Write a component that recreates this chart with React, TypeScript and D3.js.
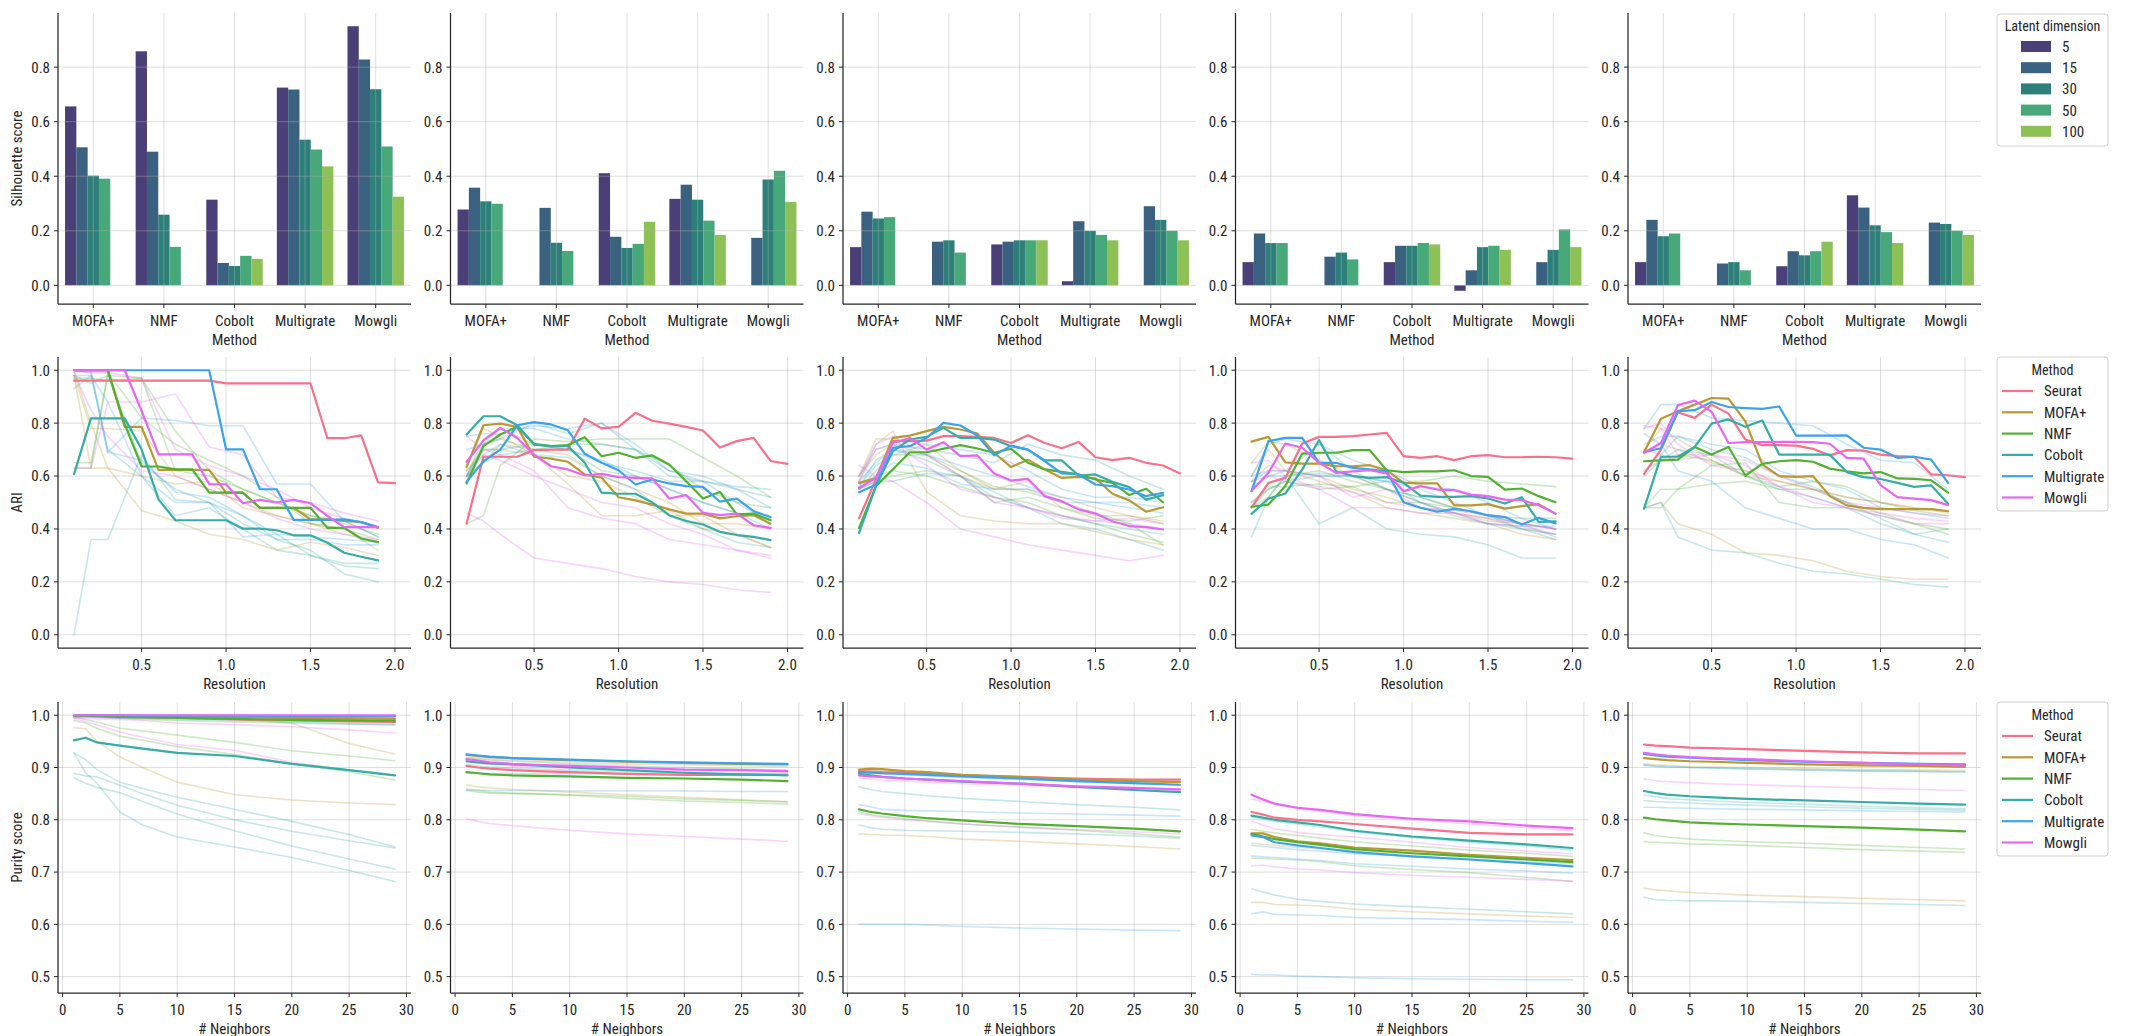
import React from "react";
import * as d3 from "d3";

const FONT = '"Roboto Condensed", "Roboto", sans-serif';
const INK = "#262626";

// ---- categories & palettes ----
const BAR_METHODS = ["MOFA+", "NMF", "Cobolt", "Multigrate", "Mowgli"];
const LATENT_DIMS = ["5", "15", "30", "50", "100"];
const DIM_COLORS = ["#4b3f78", "#3a6280", "#2d807a", "#47a879", "#8ec155"];

const METHODS = ["Seurat", "MOFA+", "NMF", "Cobolt", "Multigrate", "Mowgli"];
const METHOD_COLORS = ["#f77189", "#bb9832", "#50b131", "#36ada4", "#3ba3ec", "#e866f4"];

// ---- silhouette score (rows: method, cols: latent dimension) ----
const silhouette1 = [
  [0.656, 0.506, 0.402, 0.391, null],
  [0.858, 0.49, 0.259, 0.141, null],
  [0.314, 0.082, 0.071, 0.108, 0.097],
  [0.725, 0.718, 0.534, 0.498, 0.436],
  [0.95, 0.828, 0.719, 0.509, 0.325],
];
const silhouette2 = [
  [0.278, 0.358, 0.308, 0.299, null],
  [null, 0.284, 0.156, 0.126, null],
  [0.411, 0.178, 0.137, 0.152, 0.233],
  [0.317, 0.369, 0.314, 0.237, 0.185],
  [null, 0.174, 0.388, 0.42, 0.306],
];
const silhouette3 = [
  [0.14, 0.27, 0.245, 0.25, null],
  [null, 0.16, 0.165, 0.12, null],
  [0.15, 0.16, 0.165, 0.165, 0.165],
  [0.015, 0.235, 0.2, 0.185, 0.165],
  [null, 0.29, 0.24, 0.2, 0.165],
];
const silhouette4 = [
  [0.085, 0.19, 0.155, 0.155, null],
  [null, 0.105, 0.12, 0.095, null],
  [0.085, 0.145, 0.145, 0.155, 0.15],
  [-0.02, 0.055, 0.14, 0.145, 0.13],
  [null, 0.085, 0.13, 0.205, 0.14],
];
const silhouette5 = [
  [0.085, 0.24, 0.18, 0.19, null],
  [null, 0.08, 0.085, 0.055, null],
  [0.07, 0.125, 0.11, 0.125, 0.16],
  [0.33, 0.285, 0.22, 0.195, 0.155],
  [null, 0.23, 0.225, 0.2, 0.185],
];
const SILHOUETTE = [silhouette1, silhouette2, silhouette3, silhouette4, silhouette5];
const SILHOUETTE_TICKS = [0, 0.2, 0.4, 0.6, 0.8];

// ---- ARI vs clustering resolution ----
const RESOLUTION = [0.1, 0.2, 0.3, 0.4, 0.5, 0.6, 0.7, 0.8, 0.9, 1.0, 1.1, 1.2, 1.3, 1.4, 1.5, 1.6, 1.7, 1.8, 1.9, 2.0];
const RESOLUTION_SPARSE = [0.1, 0.2, 0.3, 0.5, 0.7, 0.9, 1.1, 1.3, 1.5, 1.7, 1.9];
const RESOLUTION_TICKS = [0.5, 1.0, 1.5, 2.0];
const ARI_TICKS = [0, 0.2, 0.4, 0.6, 0.8, 1.0];

// best latent dimension per method (Seurat, MOFA+, NMF, Cobolt, Multigrate, Mowgli)
const ariBest1 = [
  [0.961, 0.961, 0.961, 0.961, 0.961, 0.961, 0.961, 0.961, 0.961, 0.95, 0.95, 0.95, 0.95, 0.95, 0.95, 0.743, 0.743, 0.754, 0.576, 0.573],
  [1.0, 1.0, 1.0, 0.786, 0.786, 0.623, 0.623, 0.623, 0.623, 0.537, 0.537, 0.48, 0.48, 0.48, 0.436, 0.436, 0.43, 0.426, 0.404],
  [1.0, 1.0, 1.0, 0.796, 0.636, 0.636, 0.625, 0.625, 0.537, 0.537, 0.537, 0.48, 0.48, 0.48, 0.48, 0.404, 0.404, 0.364, 0.35],
  [0.607, 0.818, 0.818, 0.818, 0.701, 0.512, 0.433, 0.433, 0.433, 0.433, 0.401, 0.401, 0.395, 0.376, 0.376, 0.348, 0.31, 0.295, 0.281],
  [1.0, 1.0, 1.0, 1.0, 1.0, 1.0, 1.0, 1.0, 1.0, 0.701, 0.701, 0.55, 0.55, 0.434, 0.434, 0.434, 0.436, 0.426, 0.407],
  [1.0, 1.0, 1.0, 1.0, 0.846, 0.682, 0.682, 0.682, 0.569, 0.569, 0.497, 0.51, 0.5, 0.51, 0.497, 0.449, 0.407, 0.407, 0.407],
];
const ariBest2 = [
  [0.42, 0.673, 0.673, 0.673, 0.698, 0.7, 0.7, 0.817, 0.78, 0.786, 0.839, 0.809, 0.798, 0.786, 0.772, 0.708, 0.732, 0.744, 0.657, 0.646],
  [0.635, 0.792, 0.798, 0.786, 0.673, 0.666, 0.654, 0.606, 0.594, 0.52, 0.508, 0.492, 0.474, 0.458, 0.458, 0.44, 0.448, 0.452, 0.42],
  [0.572, 0.713, 0.757, 0.786, 0.722, 0.713, 0.717, 0.747, 0.675, 0.688, 0.669, 0.678, 0.644, 0.58, 0.515, 0.54, 0.455, 0.458, 0.433],
  [0.757, 0.826, 0.826, 0.792, 0.719, 0.713, 0.713, 0.65, 0.537, 0.533, 0.533, 0.5, 0.452, 0.43, 0.417, 0.389, 0.377, 0.37, 0.358],
  [0.578, 0.656, 0.7, 0.792, 0.804, 0.795, 0.773, 0.684, 0.65, 0.622, 0.568, 0.587, 0.572, 0.562, 0.559, 0.503, 0.515, 0.467, 0.445],
  [0.654, 0.734, 0.782, 0.744, 0.681, 0.637, 0.625, 0.602, 0.608, 0.596, 0.593, 0.591, 0.515, 0.528, 0.461, 0.452, 0.458, 0.414, 0.404],
];
const ariBest3 = [
  [0.44, 0.587, 0.732, 0.732, 0.734, 0.751, 0.751, 0.748, 0.744, 0.725, 0.754, 0.725, 0.705, 0.729, 0.671, 0.66, 0.669, 0.65, 0.64, 0.61],
  [0.574, 0.591, 0.744, 0.753, 0.77, 0.786, 0.776, 0.761, 0.688, 0.634, 0.662, 0.625, 0.593, 0.597, 0.591, 0.533, 0.508, 0.465, 0.482],
  [0.404, 0.562, 0.625, 0.69, 0.69, 0.703, 0.717, 0.704, 0.688, 0.703, 0.65, 0.625, 0.616, 0.606, 0.587, 0.574, 0.528, 0.552, 0.501],
  [0.385, 0.562, 0.694, 0.738, 0.748, 0.782, 0.744, 0.744, 0.738, 0.713, 0.7, 0.659, 0.659, 0.602, 0.606, 0.578, 0.558, 0.511, 0.528],
  [0.539, 0.568, 0.707, 0.713, 0.744, 0.801, 0.791, 0.753, 0.678, 0.715, 0.7, 0.656, 0.61, 0.606, 0.568, 0.562, 0.549, 0.524, 0.537],
  [0.555, 0.593, 0.725, 0.744, 0.7, 0.728, 0.675, 0.678, 0.61, 0.583, 0.589, 0.524, 0.505, 0.474, 0.458, 0.429, 0.411, 0.407, 0.398],
];
const ariBest4 = [
  [0.482, 0.574, 0.593, 0.723, 0.748, 0.748, 0.751, 0.757, 0.763, 0.675, 0.669, 0.675, 0.66, 0.675, 0.679, 0.671, 0.671, 0.673, 0.671, 0.666],
  [0.73, 0.748, 0.652, 0.647, 0.647, 0.637, 0.637, 0.641, 0.622, 0.574, 0.572, 0.572, 0.489, 0.489, 0.494, 0.477, 0.486, 0.494, 0.457],
  [0.484, 0.492, 0.562, 0.685, 0.688, 0.688, 0.698, 0.698, 0.622, 0.615, 0.618, 0.618, 0.622, 0.6, 0.597, 0.549, 0.553, 0.524, 0.501],
  [0.457, 0.515, 0.534, 0.625, 0.736, 0.618, 0.6, 0.593, 0.596, 0.574, 0.526, 0.521, 0.521, 0.524, 0.515, 0.496, 0.52, 0.427, 0.429],
  [0.543, 0.732, 0.744, 0.744, 0.65, 0.65, 0.631, 0.625, 0.618, 0.501, 0.48, 0.465, 0.476, 0.467, 0.452, 0.445, 0.417, 0.442, 0.421],
  [0.543, 0.612, 0.723, 0.707, 0.65, 0.612, 0.618, 0.622, 0.61, 0.543, 0.562, 0.549, 0.547, 0.53, 0.524, 0.511, 0.509, 0.49, 0.458],
];
const ariBest5 = [
  [0.608, 0.7, 0.841, 0.82, 0.87, 0.836, 0.738, 0.717, 0.717, 0.715, 0.703, 0.678, 0.698, 0.696, 0.681, 0.675, 0.673, 0.606, 0.603, 0.596],
  [0.69, 0.817, 0.845, 0.87, 0.895, 0.893, 0.807, 0.644, 0.6, 0.597, 0.6, 0.524, 0.489, 0.48, 0.475, 0.475, 0.475, 0.475, 0.467],
  [0.656, 0.659, 0.662, 0.71, 0.681, 0.71, 0.602, 0.646, 0.656, 0.66, 0.654, 0.628, 0.618, 0.61, 0.615, 0.591, 0.589, 0.584, 0.537],
  [0.477, 0.673, 0.673, 0.71, 0.798, 0.814, 0.786, 0.81, 0.681, 0.681, 0.681, 0.681, 0.615, 0.596, 0.589, 0.574, 0.559, 0.565, 0.495],
  [0.691, 0.705, 0.845, 0.849, 0.88, 0.861, 0.857, 0.854, 0.863, 0.753, 0.753, 0.753, 0.754, 0.707, 0.7, 0.669, 0.673, 0.662, 0.574],
  [0.688, 0.725, 0.868, 0.885, 0.843, 0.725, 0.728, 0.728, 0.729, 0.729, 0.728, 0.722, 0.669, 0.666, 0.566, 0.52, 0.515, 0.509, 0.49],
];
const ARI_BEST = [ariBest1, ariBest2, ariBest3, ariBest4, ariBest5];

// remaining latent dimensions: [method index, values at RESOLUTION_SPARSE]
const ariOther1 = [
  [1, [1.0, 0.8, 0.63, 0.47, 0.43, 0.38, 0.36, 0.32, 0.35, 0.33, 0.3]],
  [1, [0.98, 0.63, 0.63, 0.6, 0.57, 0.58, 0.48, 0.45, 0.42, 0.4, 0.32]],
  [1, [0.98, 0.78, 0.78, 0.77, 0.6, 0.55, 0.5, 0.45, 0.42, 0.38, 0.35]],
  [2, [0.65, 0.65, 0.98, 0.97, 0.77, 0.62, 0.55, 0.5, 0.45, 0.42, 0.38]],
  [2, [0.97, 0.97, 0.96, 0.97, 0.62, 0.6, 0.55, 0.5, 0.45, 0.43, 0.37]],
  [2, [0.63, 0.63, 0.99, 0.82, 0.72, 0.66, 0.6, 0.52, 0.42, 0.4, 0.36]],
  [3, [0.0, 0.36, 0.36, 0.68, 0.51, 0.5, 0.42, 0.36, 0.32, 0.23, 0.2]],
  [3, [0.93, 0.98, 0.7, 0.6, 0.45, 0.48, 0.4, 0.32, 0.3, 0.26, 0.25]],
  [3, [0.98, 0.95, 0.98, 0.65, 0.55, 0.5, 0.45, 0.38, 0.3, 0.27, 0.27]],
  [4, [1.0, 1.0, 0.69, 0.82, 0.81, 0.79, 0.79, 0.57, 0.57, 0.43, 0.37]],
  [4, [1.0, 0.99, 0.69, 0.66, 0.54, 0.52, 0.45, 0.36, 0.36, 0.34, 0.34]],
  [4, [0.98, 0.98, 0.88, 0.6, 0.5, 0.5, 0.37, 0.38, 0.37, 0.36, 0.35]],
  [5, [0.63, 0.63, 0.88, 0.88, 0.91, 0.71, 0.68, 0.52, 0.5, 0.46, 0.43]],
  [5, [1.0, 0.99, 0.99, 0.97, 0.7, 0.64, 0.6, 0.55, 0.48, 0.44, 0.41]],
  [5, [0.99, 0.85, 0.75, 0.62, 0.6, 0.55, 0.5, 0.44, 0.4, 0.38, 0.36]],
];
const ariOther2 = [
  [1, [0.63, 0.78, 0.75, 0.68, 0.57, 0.45, 0.45, 0.47, 0.4, 0.38, 0.33]],
  [1, [0.62, 0.7, 0.7, 0.68, 0.6, 0.58, 0.52, 0.45, 0.45, 0.38, 0.33]],
  [1, [0.6, 0.65, 0.72, 0.7, 0.68, 0.6, 0.55, 0.5, 0.42, 0.42, 0.4]],
  [2, [0.42, 0.45, 0.64, 0.74, 0.73, 0.74, 0.74, 0.74, 0.67, 0.6, 0.52]],
  [2, [0.58, 0.72, 0.74, 0.7, 0.72, 0.72, 0.7, 0.64, 0.55, 0.5, 0.48]],
  [2, [0.6, 0.74, 0.78, 0.72, 0.7, 0.62, 0.6, 0.55, 0.5, 0.46, 0.44]],
  [3, [0.6, 0.72, 0.74, 0.8, 0.76, 0.8, 0.7, 0.62, 0.58, 0.55, 0.52]],
  [3, [0.62, 0.68, 0.72, 0.68, 0.67, 0.6, 0.55, 0.45, 0.4, 0.35, 0.33]],
  [3, [0.6, 0.7, 0.7, 0.72, 0.7, 0.65, 0.62, 0.58, 0.58, 0.56, 0.55]],
  [4, [0.75, 0.76, 0.76, 0.79, 0.78, 0.8, 0.72, 0.62, 0.6, 0.55, 0.48]],
  [4, [0.7, 0.72, 0.78, 0.78, 0.74, 0.72, 0.7, 0.6, 0.58, 0.5, 0.42]],
  [4, [0.6, 0.65, 0.68, 0.7, 0.7, 0.66, 0.6, 0.55, 0.5, 0.46, 0.4]],
  [5, [0.46, 0.43, 0.38, 0.29, 0.27, 0.25, 0.22, 0.2, 0.19, 0.17, 0.16]],
  [5, [0.75, 0.7, 0.68, 0.62, 0.48, 0.44, 0.42, 0.36, 0.34, 0.32, 0.29]],
  [5, [0.6, 0.68, 0.66, 0.6, 0.55, 0.5, 0.48, 0.42, 0.38, 0.32, 0.3]],
];
const ariOther3 = [
  [1, [0.6, 0.74, 0.74, 0.72, 0.62, 0.55, 0.58, 0.48, 0.45, 0.45, 0.42]],
  [1, [0.58, 0.72, 0.77, 0.54, 0.45, 0.43, 0.42, 0.42, 0.39, 0.36, 0.34]],
  [1, [0.6, 0.68, 0.72, 0.68, 0.6, 0.55, 0.55, 0.52, 0.48, 0.45, 0.43]],
  [2, [0.55, 0.58, 0.6, 0.62, 0.6, 0.5, 0.52, 0.48, 0.44, 0.43, 0.45]],
  [2, [0.55, 0.62, 0.68, 0.68, 0.62, 0.56, 0.54, 0.5, 0.46, 0.42, 0.34]],
  [2, [0.55, 0.6, 0.62, 0.6, 0.56, 0.52, 0.5, 0.45, 0.42, 0.38, 0.35]],
  [3, [0.55, 0.58, 0.58, 0.61, 0.6, 0.52, 0.48, 0.42, 0.4, 0.36, 0.32]],
  [3, [0.6, 0.7, 0.72, 0.7, 0.68, 0.65, 0.72, 0.68, 0.66, 0.6, 0.55]],
  [3, [0.56, 0.66, 0.7, 0.66, 0.6, 0.54, 0.48, 0.45, 0.42, 0.4, 0.38]],
  [4, [0.58, 0.65, 0.7, 0.68, 0.64, 0.6, 0.56, 0.52, 0.5, 0.5, 0.48]],
  [4, [0.56, 0.64, 0.68, 0.72, 0.7, 0.68, 0.62, 0.55, 0.52, 0.52, 0.5]],
  [4, [0.57, 0.6, 0.65, 0.63, 0.57, 0.55, 0.55, 0.5, 0.5, 0.48, 0.46]],
  [5, [0.64, 0.6, 0.58, 0.5, 0.4, 0.37, 0.34, 0.32, 0.3, 0.28, 0.3]],
  [5, [0.6, 0.72, 0.75, 0.68, 0.6, 0.5, 0.48, 0.44, 0.43, 0.44, 0.42]],
  [5, [0.58, 0.7, 0.72, 0.64, 0.55, 0.52, 0.48, 0.45, 0.43, 0.42, 0.4]],
];
const ariOther4 = [
  [1, [0.58, 0.64, 0.62, 0.6, 0.55, 0.52, 0.48, 0.46, 0.44, 0.4, 0.38]],
  [1, [0.6, 0.7, 0.62, 0.58, 0.54, 0.48, 0.46, 0.44, 0.42, 0.38, 0.36]],
  [1, [0.65, 0.73, 0.72, 0.66, 0.6, 0.55, 0.5, 0.46, 0.43, 0.42, 0.4]],
  [2, [0.48, 0.55, 0.58, 0.55, 0.56, 0.58, 0.58, 0.6, 0.58, 0.57, 0.56]],
  [2, [0.5, 0.56, 0.56, 0.57, 0.56, 0.5, 0.5, 0.48, 0.45, 0.42, 0.4]],
  [2, [0.48, 0.52, 0.6, 0.62, 0.58, 0.55, 0.52, 0.48, 0.45, 0.44, 0.44]],
  [3, [0.37, 0.52, 0.6, 0.42, 0.48, 0.4, 0.38, 0.37, 0.34, 0.29, 0.29]],
  [3, [0.55, 0.6, 0.62, 0.72, 0.62, 0.55, 0.5, 0.45, 0.42, 0.4, 0.38]],
  [3, [0.5, 0.55, 0.58, 0.6, 0.6, 0.55, 0.52, 0.48, 0.45, 0.4, 0.36]],
  [4, [0.6, 0.72, 0.74, 0.72, 0.66, 0.62, 0.56, 0.55, 0.5, 0.44, 0.4]],
  [4, [0.58, 0.62, 0.62, 0.6, 0.6, 0.58, 0.5, 0.46, 0.42, 0.41, 0.41]],
  [4, [0.56, 0.6, 0.6, 0.61, 0.6, 0.58, 0.55, 0.5, 0.45, 0.42, 0.37]],
  [5, [0.65, 0.66, 0.6, 0.55, 0.48, 0.48, 0.46, 0.46, 0.42, 0.41, 0.38]],
  [5, [0.6, 0.62, 0.62, 0.6, 0.52, 0.55, 0.48, 0.47, 0.45, 0.42, 0.4]],
  [5, [0.58, 0.6, 0.58, 0.56, 0.54, 0.5, 0.48, 0.46, 0.44, 0.42, 0.4]],
];
const ariOther5 = [
  [1, [0.48, 0.5, 0.42, 0.38, 0.31, 0.3, 0.28, 0.24, 0.22, 0.21, 0.21]],
  [1, [0.7, 0.78, 0.74, 0.66, 0.6, 0.58, 0.55, 0.52, 0.5, 0.48, 0.46]],
  [1, [0.68, 0.72, 0.7, 0.65, 0.62, 0.58, 0.55, 0.52, 0.5, 0.48, 0.47]],
  [2, [0.48, 0.55, 0.55, 0.64, 0.65, 0.5, 0.48, 0.48, 0.45, 0.42, 0.4]],
  [2, [0.48, 0.48, 0.55, 0.57, 0.58, 0.55, 0.55, 0.5, 0.46, 0.42, 0.38]],
  [2, [0.62, 0.66, 0.68, 0.66, 0.6, 0.56, 0.58, 0.56, 0.5, 0.47, 0.45]],
  [3, [0.48, 0.5, 0.37, 0.32, 0.31, 0.27, 0.24, 0.23, 0.21, 0.19, 0.18]],
  [3, [0.48, 0.68, 0.75, 0.7, 0.67, 0.6, 0.56, 0.5, 0.44, 0.38, 0.35]],
  [3, [0.6, 0.66, 0.7, 0.68, 0.6, 0.55, 0.52, 0.48, 0.42, 0.38, 0.4]],
  [4, [0.78, 0.87, 0.87, 0.82, 0.81, 0.8, 0.79, 0.72, 0.66, 0.65, 0.55]],
  [4, [0.76, 0.72, 0.62, 0.58, 0.48, 0.44, 0.4, 0.4, 0.36, 0.34, 0.29]],
  [4, [0.72, 0.75, 0.75, 0.72, 0.7, 0.62, 0.58, 0.55, 0.48, 0.46, 0.44]],
  [5, [0.79, 0.78, 0.68, 0.68, 0.66, 0.6, 0.55, 0.5, 0.48, 0.46, 0.45]],
  [5, [0.78, 0.8, 0.72, 0.64, 0.62, 0.56, 0.52, 0.48, 0.45, 0.42, 0.42]],
  [5, [0.7, 0.68, 0.66, 0.68, 0.64, 0.56, 0.5, 0.48, 0.46, 0.44, 0.43]],
];
const ARI_OTHER = [ariOther1, ariOther2, ariOther3, ariOther4, ariOther5];

// ---- purity score vs number of neighbors ----
const NEIGHBORS = [1, 2, 3, 5, 7, 10, 15, 20, 25, 29];
const NEIGHBOR_TICKS = [0, 5, 10, 15, 20, 25, 30];
const PURITY_TICKS = [0.5, 0.6, 0.7, 0.8, 0.9, 1.0];

const purityBest1 = [
  [1.0, 0.999, 0.999, 0.998, 0.997, 0.995, 0.992, 0.99, 0.988, 0.987],
  [1.0, 1.0, 0.999, 0.999, 0.998, 0.997, 0.996, 0.995, 0.994, 0.993],
  [0.999, 0.999, 0.998, 0.997, 0.996, 0.995, 0.993, 0.991, 0.99, 0.989],
  [0.952, 0.957, 0.948, 0.942, 0.936, 0.928, 0.922, 0.907, 0.895, 0.885],
  [1.0, 1.0, 1.0, 1.0, 0.999, 0.999, 0.999, 0.998, 0.998, 0.998],
  [1.0, 1.0, 1.0, 1.0, 1.0, 1.0, 1.0, 1.0, 1.0, 1.0],
];
const purityBest2 = [
  [0.903, 0.9, 0.898, 0.895, 0.893, 0.891, 0.888, 0.886, 0.886, 0.886],
  [0.924, 0.922, 0.92, 0.918, 0.916, 0.914, 0.911, 0.909, 0.907, 0.906],
  [0.891, 0.889, 0.887, 0.885, 0.884, 0.883, 0.88, 0.879, 0.877, 0.874],
  [0.912, 0.91, 0.908, 0.906, 0.904, 0.9, 0.895, 0.89, 0.887, 0.885],
  [0.925, 0.923, 0.921, 0.918, 0.917, 0.915, 0.912, 0.91, 0.908, 0.907],
  [0.916, 0.913, 0.91, 0.907, 0.905, 0.903, 0.9, 0.896, 0.895, 0.893],
];
const purityBest3 = [
  [0.893, 0.892, 0.891, 0.89, 0.889, 0.885, 0.882, 0.879, 0.877, 0.877],
  [0.896, 0.898, 0.897, 0.893, 0.891, 0.886, 0.882, 0.877, 0.874, 0.872],
  [0.82, 0.815, 0.812, 0.807, 0.803, 0.799, 0.792, 0.788, 0.783, 0.778],
  [0.888, 0.885, 0.882, 0.879, 0.877, 0.873, 0.869, 0.863, 0.857, 0.853],
  [0.891, 0.89, 0.889, 0.888, 0.886, 0.883, 0.879, 0.874, 0.87, 0.867],
  [0.885, 0.883, 0.882, 0.879, 0.877, 0.874, 0.869, 0.864, 0.861, 0.858],
];
const purityBest4 = [
  [0.815, 0.81, 0.804, 0.8, 0.797, 0.792, 0.783, 0.775, 0.772, 0.772],
  [0.774, 0.774, 0.767, 0.759, 0.755, 0.747, 0.741, 0.733, 0.727, 0.723],
  [0.773, 0.768, 0.763, 0.757, 0.752, 0.744, 0.736, 0.73, 0.724, 0.719],
  [0.808, 0.804, 0.8, 0.795, 0.79, 0.779, 0.768, 0.76, 0.753, 0.746],
  [0.77, 0.767, 0.757, 0.751, 0.746, 0.738, 0.73, 0.724, 0.717, 0.711],
  [0.848, 0.839, 0.831, 0.823, 0.819, 0.811, 0.802, 0.797, 0.789, 0.784],
];
const purityBest5 = [
  [0.944, 0.942, 0.941, 0.938, 0.937, 0.935, 0.932, 0.929, 0.927, 0.927],
  [0.918, 0.916, 0.914, 0.912, 0.911, 0.909, 0.906, 0.904, 0.903, 0.901],
  [0.804, 0.801, 0.799, 0.795, 0.793, 0.791, 0.788, 0.785, 0.781, 0.778],
  [0.855, 0.851, 0.848, 0.845, 0.843, 0.84, 0.837, 0.834, 0.831, 0.829],
  [0.926, 0.923, 0.921, 0.919, 0.917, 0.914, 0.911, 0.909, 0.907, 0.906],
  [0.928, 0.925, 0.923, 0.92, 0.918, 0.916, 0.912, 0.909, 0.906, 0.904],
];
const PURITY_BEST = [purityBest1, purityBest2, purityBest3, purityBest4, purityBest5];

const purityOther1 = [
  [1, [0.976, 0.974, 0.95, 0.92, 0.9, 0.872, 0.848, 0.838, 0.832, 0.829]],
  [1, [0.995, 0.996, 0.996, 0.995, 0.995, 0.995, 0.993, 0.985, 0.946, 0.926]],
  [1, [0.999, 0.999, 0.998, 0.998, 0.997, 0.996, 0.995, 0.994, 0.993, 0.993]],
  [2, [0.997, 0.992, 0.987, 0.975, 0.97, 0.962, 0.948, 0.932, 0.922, 0.913]],
  [2, [0.998, 0.997, 0.996, 0.994, 0.992, 0.99, 0.987, 0.985, 0.983, 0.982]],
  [2, [0.99, 0.985, 0.975, 0.96, 0.952, 0.94, 0.925, 0.907, 0.892, 0.876]],
  [3, [0.928, 0.915, 0.896, 0.872, 0.86, 0.843, 0.82, 0.797, 0.772, 0.748]],
  [3, [0.889, 0.884, 0.882, 0.866, 0.85, 0.828, 0.8, 0.778, 0.76, 0.746]],
  [3, [0.88, 0.87, 0.862, 0.852, 0.835, 0.811, 0.779, 0.75, 0.725, 0.706]],
  [3, [0.928, 0.89, 0.87, 0.815, 0.79, 0.767, 0.748, 0.728, 0.703, 0.682]],
  [4, [0.999, 0.998, 0.997, 0.995, 0.994, 0.992, 0.99, 0.987, 0.984, 0.982]],
  [4, [1.0, 1.0, 1.0, 0.999, 0.999, 0.998, 0.997, 0.996, 0.995, 0.995]],
  [5, [0.995, 0.994, 0.993, 0.992, 0.99, 0.985, 0.982, 0.978, 0.972, 0.966]],
  [5, [0.994, 0.988, 0.982, 0.968, 0.958, 0.944, 0.933, 0.91, 0.895, 0.885]],
  [5, [0.999, 0.999, 0.999, 0.998, 0.998, 0.998, 0.997, 0.997, 0.997, 0.997]],
];
const purityOther2 = [
  [4, [0.89, 0.889, 0.889, 0.888, 0.888, 0.888, 0.887, 0.887, 0.887, 0.887]],
  [4, [0.857, 0.857, 0.856, 0.856, 0.856, 0.855, 0.855, 0.855, 0.854, 0.854]],
  [1, [0.867, 0.863, 0.861, 0.858, 0.856, 0.853, 0.848, 0.843, 0.838, 0.835]],
  [2, [0.856, 0.853, 0.851, 0.85, 0.849, 0.847, 0.841, 0.836, 0.833, 0.83]],
  [2, [0.859, 0.856, 0.853, 0.851, 0.85, 0.848, 0.845, 0.84, 0.837, 0.834]],
  [5, [0.802, 0.797, 0.793, 0.789, 0.785, 0.78, 0.773, 0.768, 0.763, 0.759]],
  [3, [0.918, 0.916, 0.914, 0.912, 0.91, 0.907, 0.903, 0.9, 0.897, 0.895]],
  [1, [0.92, 0.918, 0.916, 0.914, 0.912, 0.91, 0.907, 0.905, 0.903, 0.902]],
  [5, [0.91, 0.908, 0.906, 0.903, 0.901, 0.899, 0.896, 0.894, 0.892, 0.891]],
  [3, [0.905, 0.903, 0.901, 0.899, 0.897, 0.895, 0.892, 0.89, 0.888, 0.887]],
];
const purityOther3 = [
  [3, [0.863, 0.858, 0.854, 0.85, 0.846, 0.841, 0.835, 0.829, 0.824, 0.819]],
  [4, [0.829, 0.825, 0.82, 0.818, 0.817, 0.816, 0.813, 0.811, 0.809, 0.807]],
  [2, [0.815, 0.81, 0.807, 0.802, 0.798, 0.792, 0.786, 0.78, 0.773, 0.767]],
  [5, [0.812, 0.808, 0.805, 0.8, 0.797, 0.792, 0.786, 0.781, 0.777, 0.773]],
  [3, [0.79, 0.785, 0.782, 0.78, 0.779, 0.778, 0.776, 0.773, 0.769, 0.765]],
  [1, [0.773, 0.772, 0.771, 0.77, 0.768, 0.763, 0.759, 0.754, 0.749, 0.744]],
  [4, [0.6, 0.6, 0.6, 0.6, 0.599, 0.596, 0.593, 0.591, 0.589, 0.588]],
  [5, [0.88, 0.878, 0.876, 0.874, 0.872, 0.869, 0.866, 0.862, 0.859, 0.856]],
  [1, [0.895, 0.894, 0.893, 0.891, 0.889, 0.886, 0.882, 0.878, 0.875, 0.873]],
  [4, [0.89, 0.889, 0.888, 0.886, 0.884, 0.881, 0.877, 0.873, 0.869, 0.866]],
];
const purityOther4 = [
  [5, [0.84, 0.835, 0.83, 0.821, 0.816, 0.808, 0.8, 0.792, 0.785, 0.779]],
  [3, [0.805, 0.801, 0.797, 0.792, 0.787, 0.777, 0.766, 0.757, 0.75, 0.742]],
  [5, [0.797, 0.79, 0.783, 0.776, 0.772, 0.767, 0.757, 0.747, 0.74, 0.735]],
  [2, [0.782, 0.778, 0.775, 0.77, 0.765, 0.758, 0.75, 0.742, 0.736, 0.73]],
  [1, [0.755, 0.753, 0.751, 0.747, 0.745, 0.741, 0.736, 0.731, 0.727, 0.723]],
  [4, [0.751, 0.749, 0.747, 0.743, 0.74, 0.735, 0.73, 0.725, 0.72, 0.716]],
  [4, [0.731, 0.729, 0.728, 0.725, 0.722, 0.716, 0.711, 0.706, 0.702, 0.698]],
  [2, [0.727, 0.726, 0.725, 0.723, 0.72, 0.712, 0.705, 0.699, 0.69, 0.682]],
  [5, [0.712, 0.713, 0.71, 0.706, 0.704, 0.699, 0.694, 0.69, 0.686, 0.683]],
  [3, [0.668, 0.662, 0.656, 0.648, 0.644, 0.639, 0.634, 0.629, 0.624, 0.62]],
  [1, [0.642, 0.642, 0.638, 0.637, 0.635, 0.629, 0.624, 0.62, 0.616, 0.613]],
  [4, [0.62, 0.624, 0.619, 0.618, 0.617, 0.613, 0.611, 0.609, 0.606, 0.604]],
  [4, [0.504, 0.503, 0.503, 0.501, 0.5, 0.498, 0.496, 0.495, 0.494, 0.494]],
];
const purityOther5 = [
  [1, [0.907, 0.905, 0.904, 0.902, 0.901, 0.9, 0.898, 0.896, 0.895, 0.894]],
  [4, [0.905, 0.903, 0.902, 0.9, 0.899, 0.897, 0.895, 0.893, 0.892, 0.891]],
  [3, [0.904, 0.902, 0.901, 0.9, 0.899, 0.898, 0.896, 0.894, 0.893, 0.892]],
  [5, [0.878, 0.875, 0.873, 0.871, 0.869, 0.867, 0.864, 0.861, 0.858, 0.856]],
  [3, [0.847, 0.844, 0.841, 0.838, 0.836, 0.833, 0.83, 0.826, 0.823, 0.821]],
  [3, [0.837, 0.835, 0.834, 0.832, 0.83, 0.828, 0.825, 0.822, 0.82, 0.818]],
  [4, [0.824, 0.824, 0.823, 0.822, 0.821, 0.82, 0.819, 0.817, 0.816, 0.815]],
  [2, [0.775, 0.77, 0.767, 0.763, 0.761, 0.758, 0.755, 0.751, 0.747, 0.744]],
  [2, [0.758, 0.757, 0.756, 0.754, 0.753, 0.751, 0.747, 0.743, 0.74, 0.738]],
  [1, [0.669, 0.666, 0.664, 0.661, 0.659, 0.656, 0.653, 0.65, 0.647, 0.645]],
  [3, [0.652, 0.647, 0.646, 0.645, 0.645, 0.644, 0.642, 0.64, 0.638, 0.636]],
];
const PURITY_OTHER = [purityOther1, purityOther2, purityOther3, purityOther4, purityOther5];

// ---- layout ----
const PW = 353;
const PH = 291;
const colLeft = (c: number) => 58 + c * 392.5;
const ROW_TOP = [13, 357, 702];

const padded = (vals: number[]): [number, number] => {
  const [lo, hi] = d3.extent(vals) as [number, number];
  const m = (hi - lo) * 0.05;
  return [lo - m, hi + m];
};

const fmt1 = d3.format(".1f");
const fmtInt = d3.format("d");

type Scale = d3.ScaleLinear<number, number>;

function Grid({ x, y, xTicks, yTicks }: { x: Scale; y: Scale; xTicks: number[]; yTicks: number[] }) {
  return (
    <g stroke="#b0b0b0" strokeOpacity={0.42} strokeWidth={1}>
      {xTicks.map((t) => (
        <line key={"gx" + t} x1={x(t)} x2={x(t)} y1={0} y2={PH} />
      ))}
      {yTicks.map((t) => (
        <line key={"gy" + t} x1={0} x2={PW} y1={y(t)} y2={y(t)} />
      ))}
    </g>
  );
}

function AxisFrame(props: {
  x: Scale;
  y: Scale;
  xTicks: number[];
  yTicks: number[];
  xFormat: (v: number) => string;
  yFormat: (v: number) => string;
  xLabel: string;
  yLabel?: string;
}) {
  const { x, y, xTicks, yTicks, xFormat, yFormat, xLabel, yLabel } = props;
  return (
    <g fontFamily={FONT} fill={INK} fontSize={15}>
      <line x1={0} x2={0} y1={0} y2={PH} stroke={INK} strokeWidth={1.25} />
      <line x1={0} x2={PW} y1={PH} y2={PH} stroke={INK} strokeWidth={1.25} />
      {yTicks.map((t) => (
        <g key={"ty" + t} transform={`translate(0,${y(t)})`}>
          <line x1={-4} x2={0} stroke={INK} strokeWidth={1} />
          <text x={-8} dy="0.36em" textAnchor="end">
            {yFormat(t)}
          </text>
        </g>
      ))}
      {xTicks.map((t) => (
        <g key={"tx" + t} transform={`translate(${x(t)},${PH})`}>
          <line y1={0} y2={4} stroke={INK} strokeWidth={1} />
          <text y={22} textAnchor="middle">
            {xFormat(t)}
          </text>
        </g>
      ))}
      <text x={PW / 2} y={PH + 40.5} textAnchor="middle">
        {xLabel}
      </text>
      {yLabel ? (
        <text transform={`translate(-41,${PH / 2}) rotate(-90)`} dy="0.36em" textAnchor="middle">
          {yLabel}
        </text>
      ) : null}
    </g>
  );
}

// ---- row 1: silhouette bars ----
const silY: Scale = d3
  .scaleLinear()
  .domain(padded(SILHOUETTE.flat(2).filter((v): v is number => v !== null)))
  .range([PH, 0]);
const catX: Scale = d3.scaleLinear().domain([-0.5, BAR_METHODS.length - 0.5]).range([0, PW]);
const catIdx = BAR_METHODS.map((_, i) => i);

function BarPanel({ col }: { col: number }) {
  const data = SILHOUETTE[col];
  const slot = 0.8 / LATENT_DIMS.length;
  return (
    <g transform={`translate(${colLeft(col)},${ROW_TOP[0]})`}>
      {data.map((row, i) =>
        row.map((v, j) => {
          if (v === null) return null;
          const x0 = catX(i - 0.4 + j * slot);
          const x1 = catX(i - 0.4 + (j + 1) * slot);
          const y0 = silY(Math.max(0, v));
          const y1 = silY(Math.min(0, v));
          return <rect key={`b${i}-${j}`} x={x0} width={x1 - x0} y={y0} height={y1 - y0} fill={DIM_COLORS[j]} />;
        })
      )}
      <Grid x={catX} y={silY} xTicks={catIdx} yTicks={SILHOUETTE_TICKS} />
      <AxisFrame
        x={catX}
        y={silY}
        xTicks={catIdx}
        yTicks={SILHOUETTE_TICKS}
        xFormat={(i) => BAR_METHODS[i]}
        yFormat={fmt1}
        xLabel="Method"
        yLabel={col === 0 ? "Silhouette score" : undefined}
      />
    </g>
  );
}

// ---- line rows ----
type Other = (number | number[])[];

function LinePanel(props: {
  col: number;
  top: number;
  x: Scale;
  y: Scale;
  best: number[][];
  bestX: number[];
  seuratX: number[];
  others: Other[];
  othersX: number[];
  xTicks: number[];
  yTicks: number[];
  xFormat: (v: number) => string;
  xLabel: string;
  yLabel: string;
}) {
  const { col, top, x, y, best, bestX, seuratX, others, othersX, xTicks, yTicks, xFormat, xLabel, yLabel } = props;
  const path = (xs: number[], ys: number[]) =>
    d3
      .line<number>()
      .x((_, k) => x(xs[k]))
      .y((v) => y(v))(ys) as string;
  return (
    <g transform={`translate(${colLeft(col)},${top})`}>
      <Grid x={x} y={y} xTicks={xTicks} yTicks={yTicks} />
      <g fill="none" strokeLinejoin="round" strokeLinecap="round">
        {others.map((o, k) => {
          const m = o[0] as number;
          const vals = o[1] as number[];
          return (
            <path key={"o" + k} d={path(othersX, vals)} stroke={METHOD_COLORS[m]} strokeOpacity={0.28} strokeWidth={1.6} />
          );
        })}
        {best.map((vals, m) => (
          <path key={"b" + m} d={path(m === 0 ? seuratX : bestX, vals)} stroke={METHOD_COLORS[m]} strokeWidth={2.2} />
        ))}
      </g>
      <AxisFrame
        x={x}
        y={y}
        xTicks={xTicks}
        yTicks={yTicks}
        xFormat={xFormat}
        yFormat={fmt1}
        xLabel={xLabel}
        yLabel={col === 0 ? yLabel : undefined}
      />
    </g>
  );
}

const resX: Scale = d3.scaleLinear().domain(padded(RESOLUTION)).range([0, PW]);
const ariY: Scale = d3
  .scaleLinear()
  .domain(padded([...ARI_BEST.flat(2), ...ARI_OTHER.flatMap((p) => p.flatMap((o) => o[1] as number[]))]))
  .range([PH, 0]);

const nbX: Scale = d3.scaleLinear().domain(padded(NEIGHBORS)).range([0, PW]);
const purY: Scale = d3
  .scaleLinear()
  .domain(padded([...PURITY_BEST.flat(2), ...PURITY_OTHER.flatMap((p) => p.flatMap((o) => o[1] as number[]))]))
  .range([PH, 0]);

// ---- legends ----
const LEG_LEFT = 1997;
const LEG_W = 111;

function DimLegend() {
  const top = 14;
  return (
    <g fontFamily={FONT} fill={INK}>
      <rect x={LEG_LEFT} y={top} width={LEG_W} height={132} rx={3} fill="#fff" fillOpacity={0.8} stroke="#d0d0d0" />
      <text x={LEG_LEFT + LEG_W / 2} y={top + 17} textAnchor="middle" fontSize={14}>
        Latent dimension
      </text>
      {LATENT_DIMS.map((d, j) => {
        const cy = top + 32.5 + j * 21.2;
        return (
          <g key={d}>
            <rect x={LEG_LEFT + 24} y={cy - 5.5} width={30} height={11} fill={DIM_COLORS[j]} />
            <text x={LEG_LEFT + 65} y={cy} dy="0.36em" fontSize={15}>
              {d}
            </text>
          </g>
        );
      })}
    </g>
  );
}

function MethodLegend({ top }: { top: number }) {
  return (
    <g fontFamily={FONT} fill={INK}>
      <rect x={LEG_LEFT} y={top} width={LEG_W} height={154} rx={3} fill="#fff" fillOpacity={0.8} stroke="#d0d0d0" />
      <text x={LEG_LEFT + LEG_W / 2} y={top + 18} textAnchor="middle" fontSize={14}>
        Method
      </text>
      {METHODS.map((m, k) => {
        const cy = top + 34 + k * 21.3;
        return (
          <g key={m}>
            <line x1={LEG_LEFT + 5} x2={LEG_LEFT + 36} y1={cy} y2={cy} stroke={METHOD_COLORS[k]} strokeWidth={2.2} />
            <text x={LEG_LEFT + 47} y={cy} dy="0.36em" fontSize={15}>
              {m}
            </text>
          </g>
        );
      })}
    </g>
  );
}

export default function App() {
  const cols = [0, 1, 2, 3, 4];
  return (
    <svg
      width={2131}
      height={1036}
      viewBox="0 0 2131 1036"
      style={{ position: "absolute", left: 0, top: 0, background: "#fff" }}
    >
      <rect width={2131} height={1036} fill="#fff" />
      {cols.map((c) => (
        <BarPanel key={"bar" + c} col={c} />
      ))}
      {cols.map((c) => (
        <LinePanel
          key={"ari" + c}
          col={c}
          top={ROW_TOP[1]}
          x={resX}
          y={ariY}
          best={ARI_BEST[c]}
          bestX={RESOLUTION.slice(0, 19)}
          seuratX={RESOLUTION}
          others={ARI_OTHER[c] as Other[]}
          othersX={RESOLUTION_SPARSE}
          xTicks={RESOLUTION_TICKS}
          yTicks={ARI_TICKS}
          xFormat={fmt1}
          xLabel="Resolution"
          yLabel="ARI"
        />
      ))}
      {cols.map((c) => (
        <LinePanel
          key={"pur" + c}
          col={c}
          top={ROW_TOP[2]}
          x={nbX}
          y={purY}
          best={PURITY_BEST[c]}
          bestX={NEIGHBORS}
          seuratX={NEIGHBORS}
          others={PURITY_OTHER[c] as Other[]}
          othersX={NEIGHBORS}
          xTicks={NEIGHBOR_TICKS}
          yTicks={PURITY_TICKS}
          xFormat={fmtInt}
          xLabel="# Neighbors"
          yLabel="Purity score"
        />
      ))}
      <DimLegend />
      <MethodLegend top={ROW_TOP[1]} />
      <MethodLegend top={ROW_TOP[2]} />
    </svg>
  );
}
